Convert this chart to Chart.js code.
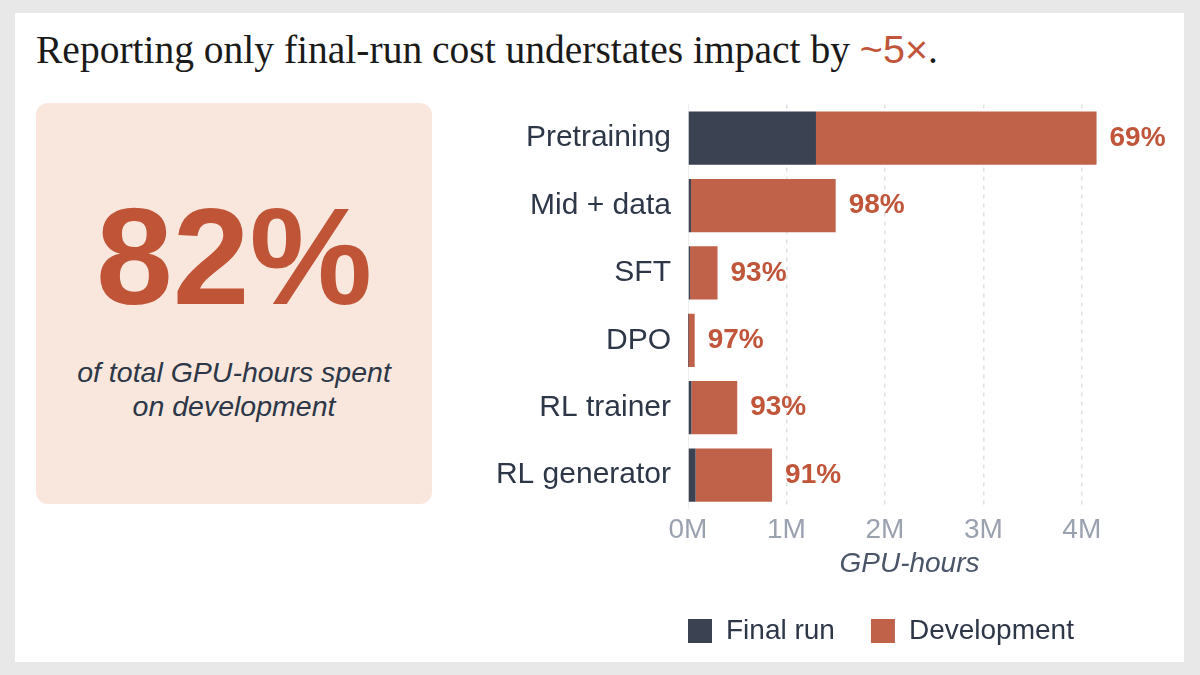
<!DOCTYPE html>
<html>
<head>
<meta charset="utf-8">
<script src="https://cdn.jsdelivr.net/npm/chart.js@4.4.1/dist/chart.umd.min.js"></script>
<style>
  html, body { margin: 0; padding: 0; width: 1200px; height: 675px; overflow: hidden; background: #e8e8e8; }
  #card { position: absolute; left: 15px; top: 13px; width: 1169px; height: 649px; background: #ffffff; }
  #title { position: absolute; left: 36px; top: 30px; font-family: "Liberation Serif", "Times New Roman", serif; font-size: 39.5px; line-height: 39px; color: #1a1a1a; white-space: nowrap; }
  #title .hl { color: #c0553a; font-family: "Liberation Sans", Arial, sans-serif; }
  #panel { position: absolute; left: 36px; top: 103px; width: 396px; height: 401px; background: #f9e7de; border-radius: 12px; }
  #big { position: absolute; left: 0; width: 396px; top: 84px; text-align: center; font-family: "Liberation Sans", Arial, sans-serif; font-weight: bold; font-size: 138px; line-height: 138px; color: #bf5436; }
  #sub { position: absolute; left: 0; width: 396px; top: 252px; text-align: center; font-family: "Liberation Sans", Arial, sans-serif; font-style: italic; font-size: 28.5px; line-height: 34px; color: #2d3748; }
  #wrap { position: absolute; left: 440px; top: 90px; width: 740px; height: 565px; }
  canvas { display: block; }
</style>
</head>
<body>
<div id="card"></div>
<div id="title">Reporting only final-run cost understates impact by <span class="hl">~5×</span>.</div>
<div id="panel">
  <div id="big">82%</div>
  <div id="sub">of total GPU-hours spent<br>on development</div>
</div>
<div id="wrap"><canvas id="c" width="740" height="565"></canvas></div>
<script>
// Data (GPU-hours)
const categories = ["Pretraining", "Mid + data", "SFT", "DPO", "RL trainer", "RL generator"];
const finalRun = [1300000, 30000, 21000, 2000, 35000, 77000];
const development = [2850000, 1470000, 279000, 66000, 465000, 777000];
const devShareLabels = ["69%", "98%", "93%", "97%", "93%", "91%"];
const xTickValues = [0, 1000000, 2000000, 3000000, 4000000];

const DARK = "#3b4252";
const ORANGE = "#c0614a";
const LABEL = "#c0553a";

const barLabels = {
  id: "barLabels",
  afterDatasetsDraw(chart) {
    const ctx = chart.ctx;
    const x = chart.scales.x;
    const meta = chart.getDatasetMeta(1);
    ctx.save();
    ctx.font = "bold 28px 'Liberation Sans', Arial, sans-serif";
    ctx.fillStyle = LABEL;
    ctx.textAlign = "left";
    ctx.textBaseline = "middle";
    categories.forEach((c, i) => {
      const total = finalRun[i] + development[i];
      const px = x.getPixelForValue(total) + 13;
      const py = meta.data[i].y;
      ctx.fillText(devShareLabels[i], px, py);
    });
    ctx.restore();
  }
};

const legendShift = {
  id: "legendShift",
  afterLayout(chart) {
    const lg = chart.legend;
    if (!lg || !lg.lineWidths) return;
    const pad = lg.options.labels.padding;
    const start = (lg.left + pad + lg.right - lg.lineWidths[0]) / 2;
    const shift = chart.chartArea.left - start;
    lg.left += shift;
    lg.right += shift;
  }
};

new Chart(document.getElementById("c"), {
  type: "bar",
  data: {
    labels: categories,
    datasets: [
      { label: "Final run", data: finalRun, backgroundColor: DARK, borderWidth: 0 },
      { label: "Development", data: development, backgroundColor: ORANGE, borderWidth: 0 }
    ]
  },
  options: {
    indexAxis: "y",
    responsive: false,
    animation: false,
    devicePixelRatio: 1,
    layout: { padding: { top: 14.5, right: 49, left: 0, bottom: 0 } },
    datasets: { bar: { categoryPercentage: 1, barPercentage: 0.79 } },
    scales: {
      x: {
        stacked: true,
        min: 0,
        max: 4500000,
        afterBuildTicks(scale) { scale.ticks = xTickValues.map(v => ({ value: v })); },
        ticks: {
          includeBounds: false,
          padding: 7.2,
          color: "#9aa1af",
          font: { family: "'Liberation Sans', Arial, sans-serif", size: 28, lineHeight: 1.0 },
          callback: (v) => (v / 1000000) + "M"
        },
        grid: {
          drawTicks: false,
          color: (ctx) => ctx.tick && ctx.tick.value === 0 ? "rgba(0,0,0,0)" : "#e0e0e0",
          lineWidth: 1.5
        },
        border: { display: false, dash: [4, 5] },
        title: {
          display: true,
          text: "GPU-hours",
          color: "#4a5568",
          padding: { top: -0.9, bottom: 2.8 },
          font: { family: "'Liberation Sans', Arial, sans-serif", size: 28, style: "italic", lineHeight: 1.0 }
        }
      },
      y: {
        stacked: true,
        afterFit(scale) { scale.width = 248; scale.paddingTop = 0; scale.paddingBottom = 0; },
        ticks: {
          padding: 17,
          color: "#2d3748",
          font: { family: "'Liberation Sans', Arial, sans-serif", size: 30 }
        },
        grid: { display: false, drawTicks: false },
        border: { display: true, color: "#eeeeee", width: 1 }
      }
    },
    plugins: {
      legend: {
        position: "bottom",
        labels: {
          boxWidth: 24,
          boxHeight: 24,
          padding: 36,
          color: "#2d3748",
          font: { family: "'Liberation Sans', Arial, sans-serif", size: 28 }
        }
      },
      tooltip: { enabled: false }
    }
  },
  plugins: [barLabels, legendShift]
});
</script>
</body>
</html>
